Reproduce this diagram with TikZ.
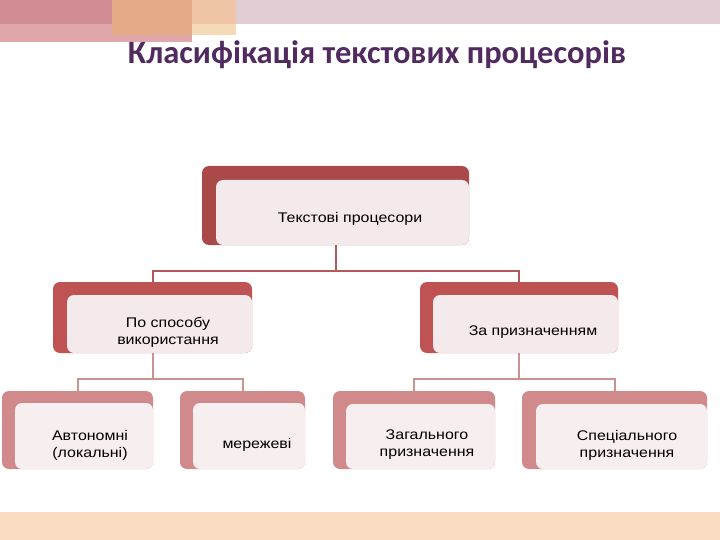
\documentclass[tikz,border=0pt]{standalone}
\usepackage{fontspec}
\setmainfont{Liberation Sans}[FakeStretch=1.14]
\newfontfamily\titlefont{Carlito}
\usetikzlibrary{positioning}
\definecolor{barpink}{HTML}{E3CDD5}
\definecolor{decred}{HTML}{D28E94}
\definecolor{decpink}{HTML}{E0A8AA}
\definecolor{decorange}{HTML}{E6AC88}
\definecolor{declight}{HTML}{F0C5A6}
\definecolor{declighter}{HTML}{F6DAB8}
\definecolor{bottombar}{HTML}{F9DCC1}
\definecolor{titlecol}{HTML}{512A60}
\definecolor{outerA}{HTML}{A9494A}
\definecolor{outerB}{HTML}{BF5252}
\definecolor{outerC}{HTML}{D08A8C}
\definecolor{innerfill}{HTML}{F5EAEB}
\definecolor{innerfillC}{HTML}{F7EEEF}
\definecolor{connA}{HTML}{B25A5B}
\definecolor{connB}{HTML}{CB9294}
\tikzset{
  outerbox/.style={rounded corners=7pt, inner sep=0pt, draw=none},
  innerbox/.style={rounded corners=7pt, inner sep=0pt, draw=none, fill=innerfill},
  lbl/.style={font=\fontsize{14}{17}\selectfont, align=center, text=black, inner sep=0pt},
  connone/.style={draw=connA, line width=2pt},
  conntwo/.style={draw=connB, line width=2pt},
}
\begin{document}
\begin{tikzpicture}[x=1pt,y=-1pt]
\useasboundingbox (0,0) rectangle (720,540);
% decoration
\fill[barpink] (0,0) rectangle (720,24);
\fill[decpink] (0,24) rectangle (192,42);
\fill[decred] (0,0) rectangle (112,24);
\fill[decorange] (112,0) rectangle (192,35);
\fill[declight] (192,0) rectangle (236,24);
\fill[declighter] (192,24) rectangle (236,35);
\fill[bottombar] (0,512) rectangle (720,540);
% title
\node[font=\titlefont\bfseries\fontsize{32.5}{38}\selectfont, text=titlecol, inner sep=0pt] (title) at (377,55) {Класифікація текстових процесорів};
% level 1
\node[outerbox, fill=outerA, minimum width=267pt, minimum height=79pt] (t0) at (335.5,205.5) {};
\fill[innerbox] (216,180) rectangle (469,245);
\node[lbl] (t0l) at (350,219) {Текстові процесори};
% level 2
\node[outerbox, fill=outerB, minimum width=199pt, minimum height=71pt] (a) at (152.5,317.5) {};
\fill[innerbox] (67,295) rectangle (252,353);
\node[lbl] (al) at (168,332) {По способу\\використання};
\node[outerbox, fill=outerB, minimum width=198pt, minimum height=71pt] (b) at (519,317.5) {};
\fill[innerbox] (433,295) rectangle (618,353);
\node[lbl] (bl) at (533,332) {За призначенням};
% level 3
\node[outerbox, fill=outerC, minimum width=151pt, minimum height=78pt] (c1) at (77.5,430) {};
\fill[innerbox, fill=innerfillC] (15,403) rectangle (153,469);
\node[lbl] (c1l) at (90,445) {Автономні\\(локальні)};
\node[outerbox, fill=outerC, minimum width=125pt, minimum height=78pt] (c2) at (242.5,430) {};
\fill[innerbox, fill=innerfillC] (193,403) rectangle (305,469);
\node[lbl] (c2l) at (257,445) {мережеві};
\node[outerbox, fill=outerC, minimum width=162pt, minimum height=78pt] (c3) at (414,430) {};
\fill[innerbox, fill=innerfillC] (346,404) rectangle (495,469);
\node[lbl] (c3l) at (427,445) {Загального\\призначення};
\node[outerbox, fill=outerC, minimum width=185pt, minimum height=78pt] (c4) at (614.5,430) {};
\fill[innerbox, fill=innerfillC] (536,404) rectangle (707,469);
\node[lbl] (c4l) at (627,445) {Спеціального\\призначення};
% connectors
\coordinate (j0) at (335.5,270.5);
\coordinate (j1) at (152.5,378.5);
\coordinate (j2) at (519,378.5);
\draw[connone] (t0.south) -- (j0);
\draw[connone] (j0) -| (a.north);
\draw[connone] (j0) -| (b.north);
\draw[conntwo] (a.south) -- (j1);
\draw[conntwo] (j1) -| (c1.north);
\draw[conntwo] (j1) -| (c2.north);
\draw[conntwo] (b.south) -- (j2);
\draw[conntwo] (j2) -| (c3.north);
\draw[conntwo] (j2) -| (c4.north);
\end{tikzpicture}
\end{document}
